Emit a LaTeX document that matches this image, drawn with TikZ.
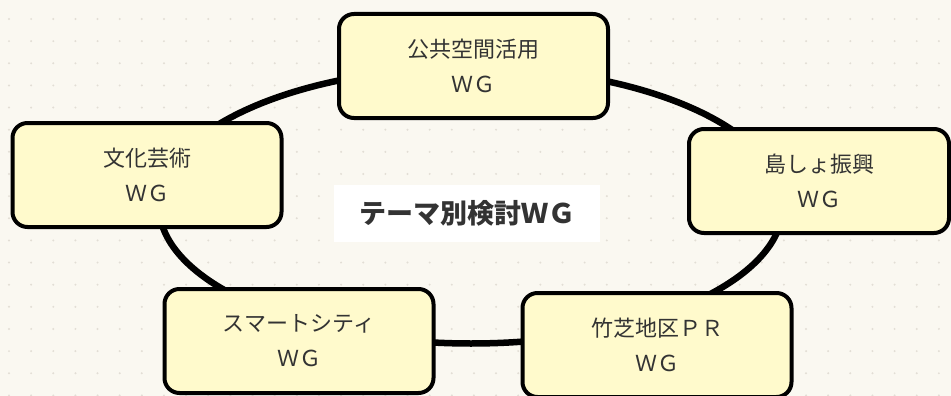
\documentclass[tikz,border=0pt]{standalone}
\usepackage{fontspec}
\setmainfont{Noto Sans CJK JP}
\definecolor{bgcream}{HTML}{FAF8F1}
\definecolor{dotgray}{HTML}{E2DED5}
\definecolor{boxyellow}{HTML}{FFFACC}
\definecolor{textgray}{HTML}{333333}
\begin{document}
\begin{tikzpicture}[x=1pt,y=-1pt,
    wgbox/.style={draw=black,line width=4pt,rounded corners=15pt,fill=boxyellow,
        minimum width=269pt,minimum height=104pt,inner sep=0pt,align=center,
        text=textgray,font=\fontsize{22}{35}\selectfont},
    ring/.style={draw=black,line width=6.5pt},
    titlebox/.style={fill=white,minimum width=266pt,minimum height=57pt,inner sep=0pt,
        text=textgray,font=\fontsize{27}{30}\selectfont\bfseries}]
    %background with dot grid
    \fill[bgcream] (0,0) rectangle (951,396);
    \useasboundingbox (0,0) rectangle (951,396);
    \foreach \i in {0,...,42}
        \foreach \j in {0,...,17}
            \fill[dotgray] ({9+22.14*\i},{19+22.14*\j}) circle (1.1pt);
    %ring that links the groups
    \coordinate (ringc) at (471,205.5);
    \draw[ring] (ringc) ellipse [x radius=312, y radius=138];
    %the working groups
    \node[wgbox] (koukyou) at (473.5,66) {公共空間活用\\ＷＧ};
    \node[wgbox,minimum width=260pt] (shima) at (819,181) {島しょ振興\\ＷＧ};
    \node[wgbox] (bunka) at (147,175) {文化芸術\\ＷＧ};
    \node[wgbox] (smart) at (299,341) {スマートシティ\\ＷＧ};
    \node[wgbox] (takeshiba) at (657,345) {竹芝地区ＰＲ\\ＷＧ};
    %center title
    \node[titlebox] (theme) at (467,213.5) {テーマ別検討ＷＧ};
\end{tikzpicture}
\end{document}
